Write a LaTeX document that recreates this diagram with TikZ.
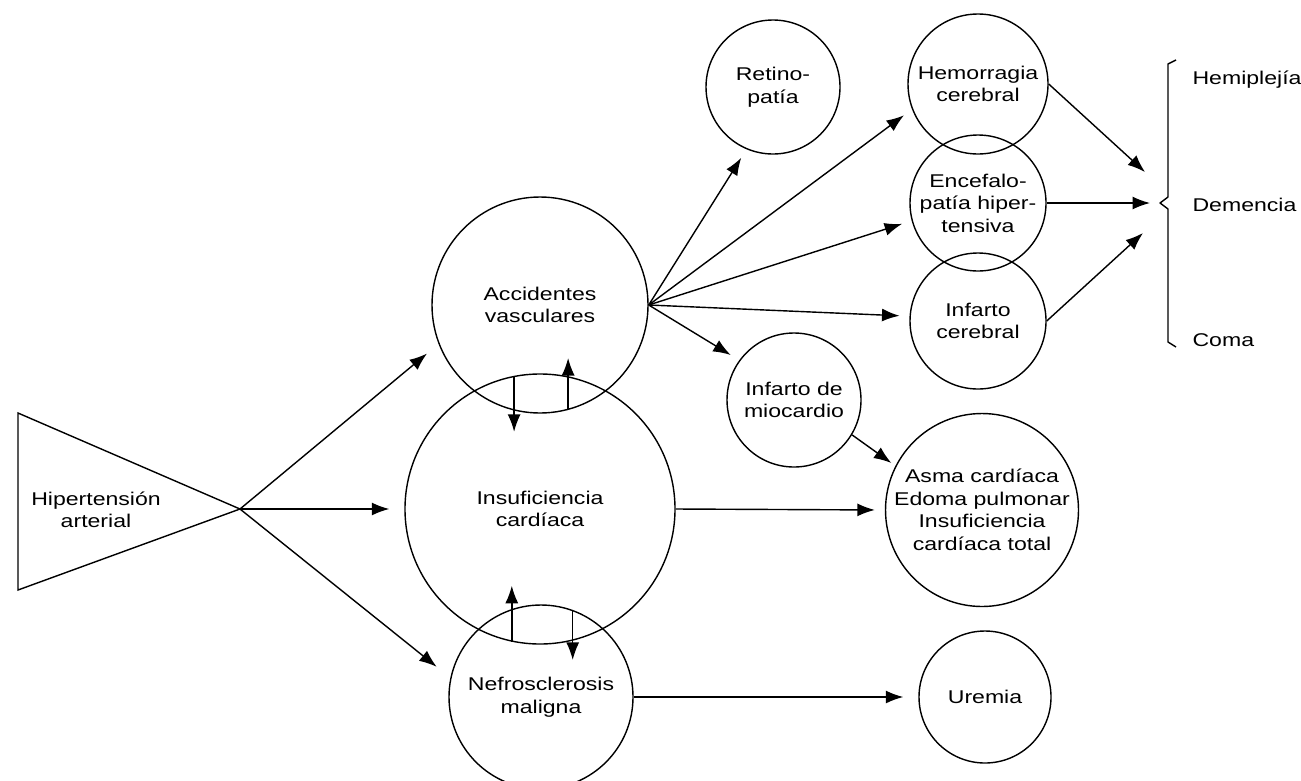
\documentclass[tikz,border=0pt]{standalone}
\usepackage{fontspec}
\setmainfont{Liberation Sans}[FakeStretch=1.25]
\usetikzlibrary{arrows.meta}

\begin{document}
\begin{tikzpicture}[x=0.2mm, y=-0.2mm, line width=0.8pt, font=\fontsize{10.5}{12.8}\selectfont]
    \tikzstyle{blob} = [circle, draw, align=center, inner sep=0pt]
    \tikzstyle{arr} = [-{Latex[length=3.5mm, width=2.6mm]}]

    \useasboundingbox (0,0) rectangle (1301,780);

    % Triangle on the left
    \coordinate (apex) at (240,509);
    \draw (18,413) -- (apex) -- (18,590) -- cycle;
    \node[align=center] (hta) at (96,510) {Hipertensión\\arterial};

    % Main circles
    \node[blob, minimum size=43.2mm] (acc) at (540,305) {Accidentes\\vasculares};
    \node[blob, minimum size=54mm] (ins) at (540,509) {Insuficiencia\\cardíaca};
    \node[blob, minimum size=36.8mm] (nef) at (541,697) {Nefrosclerosis\\maligna};

    % Complications
    \node[blob, minimum size=26.8mm] (ret) at (773,87) {Retino-\\patía};
    \node[blob, minimum size=28mm] (hem) at (978,84) {Hemorragia\\cerebral};
    \node[blob, minimum size=27.2mm] (enc) at (978,203) {Encefalo-\\patía hiper-\\tensiva};
    \node[blob, minimum size=27.2mm] (icb) at (978,321) {Infarto\\cerebral};
    \node[blob, minimum size=26.8mm] (imi) at (794,400) {Infarto de\\miocardio};
    \node[blob, minimum size=38mm] (asm) at (982,510) {Asma cardíaca\\Edoma pulmonar\\Insuficiencia\\cardíaca total};
    \node[blob, minimum size=26.4mm] (ure) at (985,697) {Uremia};

    % From the triangle
    \draw[arr, shorten >=3mm] (apex) -- (acc.201);
    \draw[arr, shorten >=3mm] (apex) -- (ins.west);
    \draw[arr, shorten >=3.5mm] (apex) -- (nef.168);

    % Between the main circles
    \draw[arr] (ins.101) -- ++(0,56);
    \draw[arr] (acc.-75) -- ++(0,-52);
    \draw[arr] (ins.-102) -- ++(0,-56);
    \draw[arr] (nef.70) -- ++(0,50);

    % Fan out of Accidentes vasculares
    \foreach \to in {ret.247, hem.201, enc.195, icb.176, imi.144} {
        \draw[arr, shorten >=2mm] (acc.east) -- (\to);
    }

    \draw[arr, shorten >=1mm] (imi.-31) -- (asm.153);
    \draw[arr, shorten >=2mm] (ins.east) -- (asm.west);
    \draw[arr, shorten >=3mm] (nef.east) -- (ure.west);

    % Towards the brace
    \coordinate (to1) at (1145,172);
    \coordinate (to2) at (1150,203);
    \coordinate (to3) at (1143,233);
    \draw[arr] (hem.east) -- (to1);
    \draw[arr] (enc.east) -- (to2);
    \draw[arr] (icb.east) -- (to3);

    % Brace and outcomes
    \draw[line join=round] (1176,60) -- (1168,64) -- (1168,197) -- (1160,203) -- (1168,209) -- (1168,342) -- (1176,347);
    \node[anchor=west] (hemi) at (1186,80) {Hemiplejía};
    \node[anchor=west] (deme) at (1186,205) {Demencia};
    \node[anchor=west] (coma) at (1186,340) {Coma};
\end{tikzpicture}
\end{document}
